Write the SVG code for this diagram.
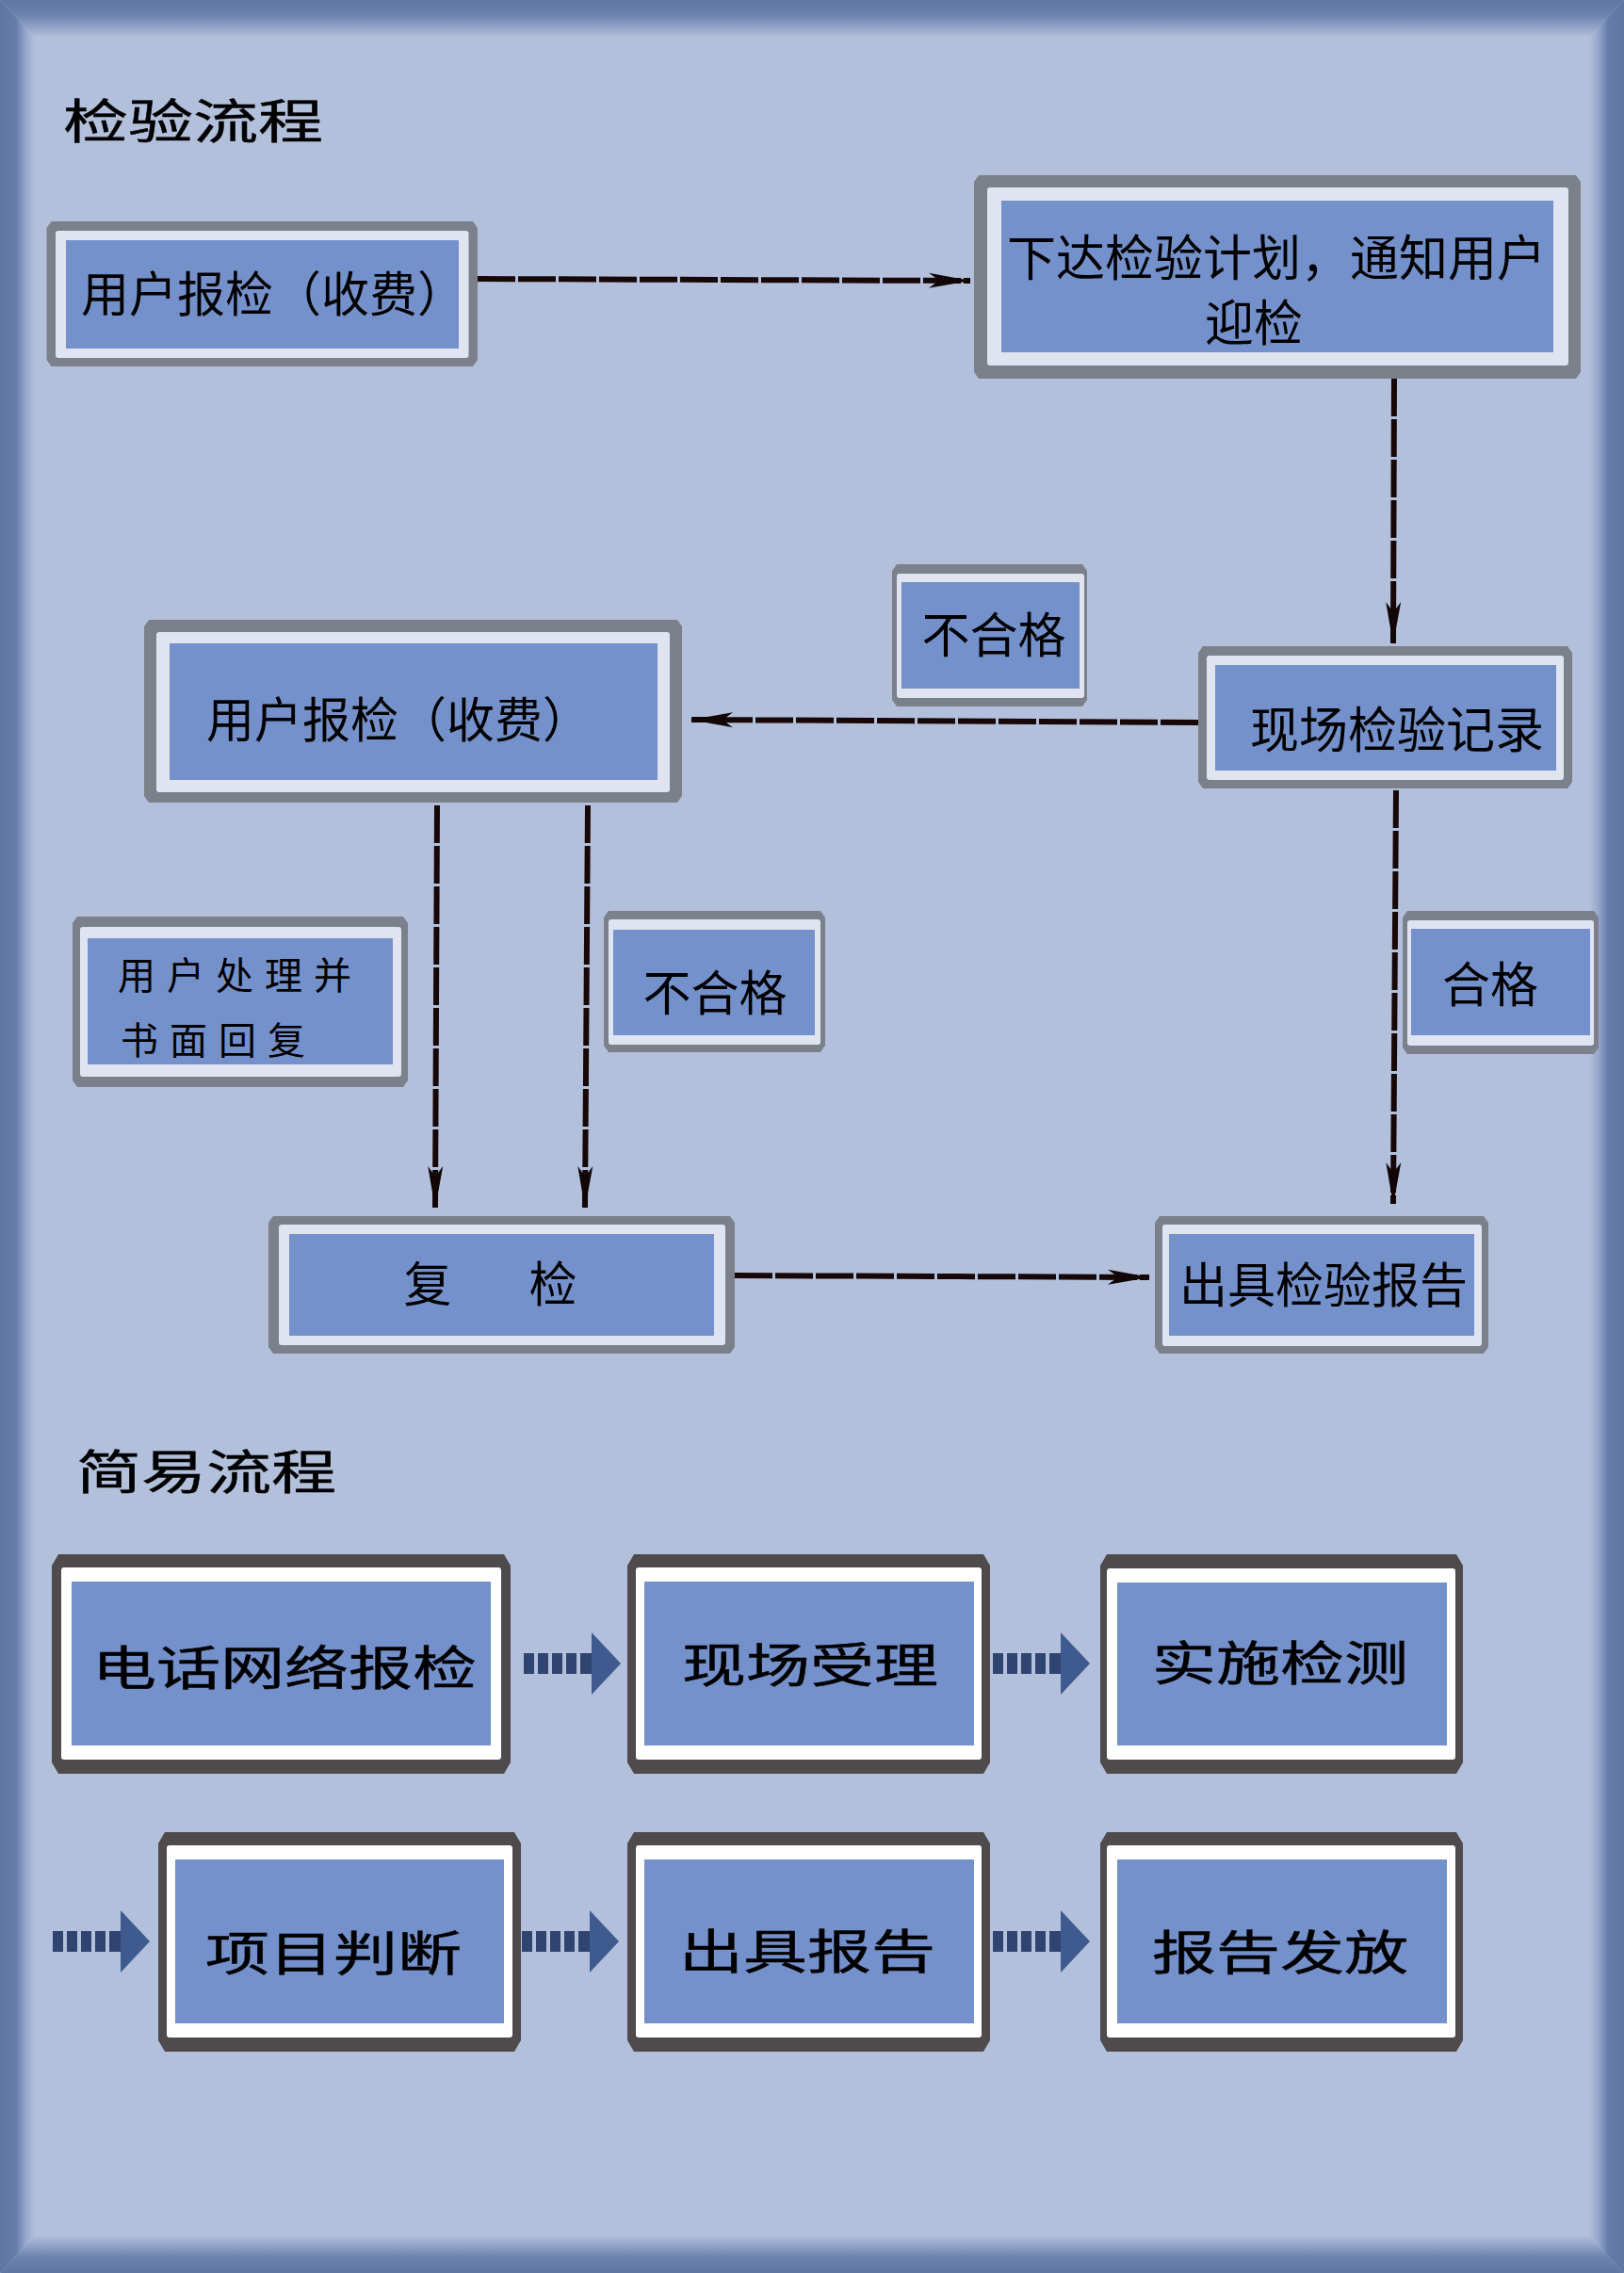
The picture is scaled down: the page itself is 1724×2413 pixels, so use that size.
<svg xmlns="http://www.w3.org/2000/svg" xmlns:xlink="http://www.w3.org/1999/xlink" width="1724" height="2413" viewBox="0 0 1724 2413">
<style>
.gb{fill:#7c808b}
.lf{fill:#dfe4f0}
.bl{fill:#7591cb}
.db{fill:#4f4b4d}
.wf{fill:#ffffff}
.t{font-family:"Noto Sans CJK SC","Noto Sans CJK JP",sans-serif;font-size:51px;fill:#000;text-anchor:middle;dominant-baseline:central}
.s{font-family:"Noto Sans CJK SC","Noto Sans CJK JP",sans-serif;font-size:50px;fill:#000;stroke:#000;stroke-width:0.5px;text-anchor:middle;dominant-baseline:central}
.sm{font-family:"Noto Sans CJK SC","Noto Sans CJK JP",sans-serif;font-size:40px;fill:#000;letter-spacing:12px;dominant-baseline:central}
.conn{fill:none;stroke:#170707;stroke-width:6;stroke-dasharray:40 3;marker-end:url(#ah)}
</style>
<defs>
<linearGradient id="gT" x1="0" y1="0" x2="0" y2="1"><stop offset="0" stop-color="#5e76a1"/><stop offset="0.4" stop-color="#6a82ad"/><stop offset="1" stop-color="#b2c0dc"/></linearGradient>
<linearGradient id="gB" x1="0" y1="1" x2="0" y2="0"><stop offset="0" stop-color="#5e76a1"/><stop offset="0.4" stop-color="#6a82ad"/><stop offset="1" stop-color="#b2c0dc"/></linearGradient>
<linearGradient id="gL" x1="0" y1="0" x2="1" y2="0"><stop offset="0" stop-color="#5d75a0"/><stop offset="0.45" stop-color="#647ca8"/><stop offset="0.75" stop-color="#98a9cc"/><stop offset="1" stop-color="#b2c0dc"/></linearGradient>
<linearGradient id="gR" x1="1" y1="0" x2="0" y2="0"><stop offset="0" stop-color="#5d75a0"/><stop offset="0.45" stop-color="#647ca8"/><stop offset="0.75" stop-color="#98a9cc"/><stop offset="1" stop-color="#b2c0dc"/></linearGradient>
<marker id="ah" markerUnits="userSpaceOnUse" viewBox="0 0 46 18" markerWidth="46" markerHeight="18" refX="45" refY="9" orient="auto">
<path d="M1,1 L46,9 L1,17 L12,9 Z" fill="#120505"/>
</marker>
<g id="blk">
<rect x="0" y="-11" width="11" height="22" fill="#2f4470"/>
<rect x="15" y="-11" width="11" height="22" fill="#2f4470"/>
<rect x="30" y="-11" width="11" height="22" fill="#2f4470"/>
<rect x="45" y="-11" width="11" height="22" fill="#2f4470"/>
<rect x="60" y="-11" width="13" height="22" fill="#2f4470"/>
<polygon points="72,-33 103,0 72,33" fill="#3f5a8f"/>
</g>
</defs>

<g id="background">
<rect x="0" y="0" width="1724" height="2413" fill="#b2c0dc"/>
<polygon points="0,0 1724,0 1687,40 37,40" fill="url(#gT)"/>
<polygon points="0,2413 37,2373 1687,2373 1724,2413" fill="url(#gB)"/>
<polygon points="0,0 37,40 37,2373 0,2413" fill="url(#gL)"/>
<polygon points="1724,0 1724,2413 1687,2373 1687,40" fill="url(#gR)"/>
</g>

<g id="titles">
<text class="s" transform="translate(205,125) scale(1.38,1)" x="0" y="0">检验流程</text>
<text class="s" transform="translate(219,1559) scale(1.38,1)" x="0" y="0">简易流程</text>
</g>

<g id="connectors">
<path class="conn" d="M507,296 L1030,298"/>
<path class="conn" d="M1480,402 L1479,683"/>
<path class="conn" d="M1272,767 L734,764"/>
<path class="conn" d="M1482,839 L1479,1278"/>
<path class="conn" d="M464,855 L462,1282"/>
<path class="conn" d="M624,855 L621,1282"/>
<path class="conn" d="M780,1354 L1220,1356"/>
<use xlink:href="#blk" href="#blk" x="556" y="1766"/>
<use xlink:href="#blk" href="#blk" x="1054" y="1766"/>
<use xlink:href="#blk" href="#blk" x="56" y="2061"/>
<use xlink:href="#blk" href="#blk" x="554" y="2061"/>
<use xlink:href="#blk" href="#blk" x="1054" y="2061"/>
</g>

<g id="n1">
<polygon class="gb" points="54.5,235 502,235 507,242 507,382 502,389 54.5,389 49.5,382 49.5,242"/>
<rect class="lf" x="59" y="245" width="438.5" height="135" rx="3"/>
<rect class="bl" x="70" y="255" width="417" height="115"/>
<text class="t" x="290" y="309" style="font-size:51px">用户报检（收费）</text>
</g>

<g id="n2">
<polygon class="gb" points="1039,186 1673,186 1678,193 1678,395 1673,402 1039,402 1034,395 1034,193"/>
<rect class="lf" x="1048" y="199" width="617" height="189" rx="3"/>
<rect class="bl" x="1063" y="213" width="586" height="161"/>
<text class="t" x="1355" y="270" style="font-size:52px">下达检验计划，通知用户</text>
<text class="t" x="1331" y="339" style="font-size:52px">迎检</text>
</g>

<g id="n3">
<polygon class="gb" points="952,599 1149,599 1154,606 1154,743 1149,750 952,750 947,743 947,606"/>
<rect class="lf" x="952" y="609" width="199" height="132" rx="3"/>
<rect class="bl" x="957" y="618" width="189" height="113"/>
<text class="t" x="1055" y="671">不合格</text>
</g>

<g id="n4">
<polygon class="gb" points="1277,686 1664,686 1669,693 1669,830 1664,837 1277,837 1272,830 1272,693"/>
<rect class="lf" x="1281" y="696" width="379" height="132" rx="3"/>
<rect class="bl" x="1290" y="706" width="362" height="112"/>
<text class="t" x="1483" y="771" style="font-size:52px">现场检验记录</text>
</g>

<g id="n5">
<polygon class="gb" points="158,658 719,658 724,665 724,845 719,852 158,852 153,845 153,665"/>
<rect class="lf" x="166" y="671" width="545" height="170" rx="3"/>
<rect class="bl" x="180" y="683" width="518" height="145"/>
<text class="t" x="423" y="761" style="font-size:51px">用户报检（收费）</text>
</g>

<g id="n6">
<polygon class="gb" points="82,973 428,973 433,980 433,1147 428,1154 82,1154 77,1147 77,980"/>
<rect class="lf" x="85" y="984" width="341" height="159" rx="3"/>
<rect class="bl" x="93" y="996" width="324" height="134"/>
<text class="sm" x="125" y="1033">用户处理并</text>
<text class="sm" x="128" y="1102">书面回复</text>
</g>

<g id="n7">
<polygon class="gb" points="646,967 871,967 876,974 876,1110 871,1117 646,1117 641,1110 641,974"/>
<rect class="lf" x="646" y="976" width="225" height="133" rx="3"/>
<rect class="bl" x="651" y="987" width="214" height="112"/>
<text class="t" x="759" y="1051">不合格</text>
</g>

<g id="n8">
<polygon class="gb" points="1494,967 1692,967 1697,974 1697,1112 1692,1119 1494,1119 1489,1112 1489,974"/>
<rect class="lf" x="1494" y="977" width="198" height="133" rx="3"/>
<rect class="bl" x="1498" y="986" width="190" height="113"/>
<text class="t" x="1582" y="1042">合格</text>
</g>

<g id="n9">
<polygon class="gb" points="290,1291 775,1291 780,1298 780,1430 775,1437 290,1437 285,1430 285,1298"/>
<rect class="lf" x="296" y="1300" width="474" height="128" rx="3"/>
<rect class="bl" x="307" y="1310" width="451" height="108"/>
<text class="t" y="1360"><tspan x="454">复</tspan><tspan x="587">检</tspan></text>
</g>

<g id="n10">
<polygon class="gb" points="1231,1291 1575,1291 1580,1298 1580,1430 1575,1437 1231,1437 1226,1430 1226,1298"/>
<rect class="lf" x="1234" y="1300" width="339" height="129" rx="3"/>
<rect class="bl" x="1241" y="1310" width="324" height="108"/>
<text class="t" x="1405" y="1361">出具检验报告</text>
</g>

<g id="s1">
<polygon class="db" points="62,1650 535,1650 542,1662 542,1871 535,1883 62,1883 55,1871 55,1662"/>
<rect class="wf" x="65" y="1664" width="467" height="204" rx="3"/>
<rect class="bl" x="76" y="1679" width="445" height="174"/>
<text class="s" transform="translate(302,1767) scale(1.36,1)" x="0" y="0">电话网络报检</text>
</g>

<g id="s2">
<polygon class="db" points="673,1650 1044,1650 1051,1662 1051,1871 1044,1883 673,1883 666,1871 666,1662"/>
<rect class="wf" x="675" y="1664" width="367" height="204" rx="3"/>
<rect class="bl" x="684" y="1679" width="350" height="174"/>
<text class="s" transform="translate(860,1764) scale(1.36,1)" x="0" y="0">现场受理</text>
</g>

<g id="s3">
<polygon class="db" points="1175,1650 1546,1650 1553,1662 1553,1871 1546,1883 1175,1883 1168,1871 1168,1662"/>
<rect class="wf" x="1175" y="1665" width="370" height="203" rx="3"/>
<rect class="bl" x="1186" y="1680" width="350" height="173"/>
<text class="s" transform="translate(1359,1762) scale(1.36,1)" x="0" y="0">实施检测</text>
</g>

<g id="s4">
<polygon class="db" points="175,1945 546,1945 553,1957 553,2166 546,2178 175,2178 168,2166 168,1957"/>
<rect class="wf" x="177" y="1959" width="367" height="204" rx="3"/>
<rect class="bl" x="186" y="1974" width="349" height="174"/>
<text class="s" transform="translate(354,2070) scale(1.36,1)" x="0" y="0">项目判断</text>
</g>

<g id="s5">
<polygon class="db" points="673,1945 1044,1945 1051,1957 1051,2166 1044,2178 673,2178 666,2166 666,1957"/>
<rect class="wf" x="675" y="1959" width="367" height="204" rx="3"/>
<rect class="bl" x="684" y="1974" width="350" height="174"/>
<text class="s" transform="translate(857,2068) scale(1.36,1)" x="0" y="0">出具报告</text>
</g>

<g id="s6">
<polygon class="db" points="1175,1945 1546,1945 1553,1957 1553,2166 1546,2178 1175,2178 1168,2166 1168,1957"/>
<rect class="wf" x="1175" y="1959" width="370" height="204" rx="3"/>
<rect class="bl" x="1186" y="1974" width="350" height="174"/>
<text class="s" transform="translate(1359,2069) scale(1.36,1)" x="0" y="0">报告发放</text>
</g>
</svg>
